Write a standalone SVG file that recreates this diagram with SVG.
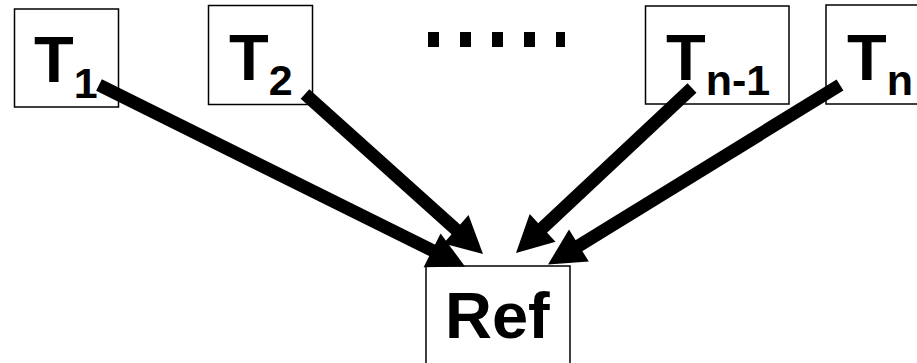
<svg xmlns="http://www.w3.org/2000/svg" width="917" height="363" viewBox="0 0 917 363">
<style>
.box{fill:#fff;stroke:#000;stroke-width:1.5}
.lbl{font-family:"Liberation Sans",Arial,sans-serif;font-weight:bold;font-size:65px;fill:#000}
.sub{font-size:43px}
.conn{stroke:#000;stroke-width:13;fill:none;stroke-linecap:butt}
.head{fill:#000;stroke:none}
</style>
<g id="T1">
<rect class="box" x="14.5" y="9" width="104" height="98"/>
<text class="lbl" x="34" y="82">T<tspan class="sub" dy="16">1</tspan></text>
</g>
<g id="T2">
<rect class="box" x="208.5" y="5.5" width="104" height="99"/>
<text class="lbl" x="229" y="80">T<tspan class="sub" dy="15">2</tspan></text>
</g>
<g id="dots">
<line x1="428" y1="39.5" x2="565" y2="39.5" stroke="#000" stroke-width="15" stroke-dasharray="11 21"/>
</g>
<g id="Tn-1">
<rect class="box" x="645.5" y="6" width="143.5" height="98"/>
<text class="lbl" x="666" y="80">T<tspan class="sub" dy="15">n-1</tspan></text>
</g>
<g id="Tn">
<rect class="box" x="826" y="5" width="120" height="99"/>
<text class="lbl" x="847" y="80">T<tspan class="sub" dy="15">n</tspan></text>
</g>
<g id="Ref">
<rect class="box" x="426" y="266" width="144" height="130"/>
<text class="lbl" x="445" y="338" font-size="62">Ref</text>
</g>
<g id="connectors">
<line class="conn" x1="99" y1="85" x2="434" y2="251.2"/>
<polygon class="head" points="465,266.5 423.6,267.2 440.6,233.4"/>
<line class="conn" x1="305" y1="94" x2="457" y2="230.5"/>
<polygon class="head" points="483,254 443.5,243.5 468.5,215"/>
<line class="conn" x1="692" y1="88" x2="541.5" y2="229"/>
<polygon class="head" points="516,253 529.7,214 555.5,241.7"/>
<line class="conn" x1="840" y1="85" x2="578" y2="246.2"/>
<polygon class="head" points="548,264.5 569,229.6 588.8,261.6"/>
</g>
</svg>
